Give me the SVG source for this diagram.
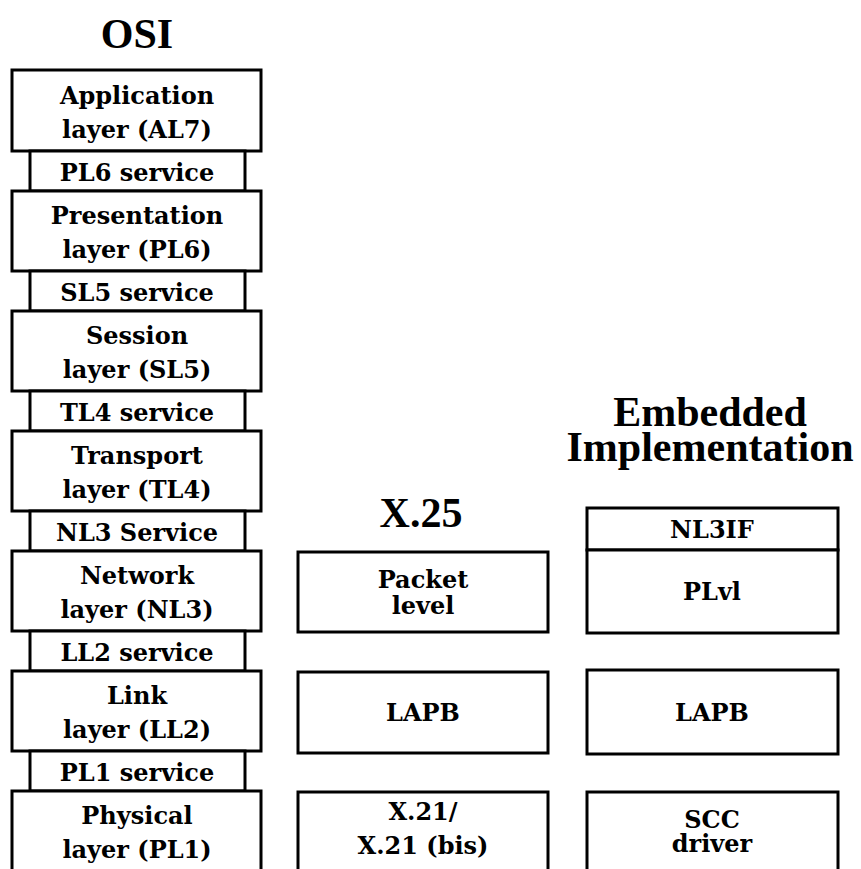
<svg xmlns="http://www.w3.org/2000/svg" width="861" height="869" viewBox="0 0 861 869">
<style>
.box{fill:#fff;stroke:#000;stroke-width:3}
.lbl{font-family:"DejaVu Serif","Liberation Serif",serif;font-weight:bold;font-size:24px;fill:#000;text-anchor:middle}
.ttl{font-family:"Liberation Serif","DejaVu Serif",serif;font-weight:bold;font-size:42px;fill:#000;text-anchor:middle}
</style>
<rect width="861" height="869" fill="#fff"/>
<g id="titles">
<text class="ttl" x="137" y="48">OSI</text>
<text class="ttl" x="421" y="527">X.25</text>
<text class="ttl" x="710" y="426">Embedded</text>
<text class="ttl" x="710" y="461">Implementation</text>
</g>
<g id="osi-al7"><rect class="box" x="12" y="70" width="249" height="81"/><text class="lbl" x="137" y="104">Application</text><text class="lbl" x="137" y="138">layer (AL7)</text></g>
<g id="osi-pl6-service"><rect class="box" x="30" y="151" width="215" height="40"/><text class="lbl" x="137" y="181">PL6 service</text></g>
<g id="osi-pl6"><rect class="box" x="12" y="191" width="249" height="80"/><text class="lbl" x="137" y="224">Presentation</text><text class="lbl" x="137" y="258">layer (PL6)</text></g>
<g id="osi-sl5-service"><rect class="box" x="30" y="271" width="215" height="40"/><text class="lbl" x="137" y="301">SL5 service</text></g>
<g id="osi-sl5"><rect class="box" x="12" y="311" width="249" height="80"/><text class="lbl" x="137" y="344">Session</text><text class="lbl" x="137" y="378">layer (SL5)</text></g>
<g id="osi-tl4-service"><rect class="box" x="30" y="391" width="215" height="40"/><text class="lbl" x="137" y="421">TL4 service</text></g>
<g id="osi-tl4"><rect class="box" x="12" y="431" width="249" height="80"/><text class="lbl" x="137" y="464">Transport</text><text class="lbl" x="137" y="498">layer (TL4)</text></g>
<g id="osi-nl3-service"><rect class="box" x="30" y="511" width="215" height="40"/><text class="lbl" x="137" y="541">NL3 Service</text></g>
<g id="osi-nl3"><rect class="box" x="12" y="551" width="249" height="80"/><text class="lbl" x="137" y="584">Network</text><text class="lbl" x="137" y="618">layer (NL3)</text></g>
<g id="osi-ll2-service"><rect class="box" x="30" y="631" width="215" height="40"/><text class="lbl" x="137" y="661">LL2 service</text></g>
<g id="osi-ll2"><rect class="box" x="12" y="671" width="249" height="80"/><text class="lbl" x="137" y="704">Link</text><text class="lbl" x="137" y="738">layer (LL2)</text></g>
<g id="osi-pl1-service"><rect class="box" x="30" y="751" width="215" height="40"/><text class="lbl" x="137" y="781">PL1 service</text></g>
<g id="osi-pl1"><rect class="box" x="12" y="791" width="249" height="100"/><text class="lbl" x="137" y="824">Physical</text><text class="lbl" x="137" y="858">layer (PL1)</text></g>
<g id="x25-packet"><rect class="box" x="298" y="552" width="250" height="80"/><text class="lbl" x="423" y="588">Packet</text><text class="lbl" x="423" y="614">level</text></g>
<g id="x25-lapb"><rect class="box" x="298" y="672" width="250" height="81"/><text class="lbl" x="423" y="721">LAPB</text></g>
<g id="x25-x21"><rect class="box" x="298" y="792" width="250" height="100"/><text class="lbl" x="423" y="820">X.21/</text><text class="lbl" x="423" y="854">X.21 (bis)</text></g>
<g id="emb-nl3if"><rect class="box" x="587" y="508" width="251" height="42"/><text class="lbl" x="712" y="538">NL3IF</text></g>
<g id="emb-plvl"><rect class="box" x="587" y="550" width="251" height="83"/><text class="lbl" x="712" y="600">PLvl</text></g>
<g id="emb-lapb"><rect class="box" x="587" y="670" width="251" height="84"/><text class="lbl" x="712" y="721">LAPB</text></g>
<g id="emb-scc"><rect class="box" x="587" y="792" width="251" height="100"/><text class="lbl" x="712" y="828">SCC</text><text class="lbl" x="712" y="852">driver</text></g>
<g id="connectors"></g>
</svg>
